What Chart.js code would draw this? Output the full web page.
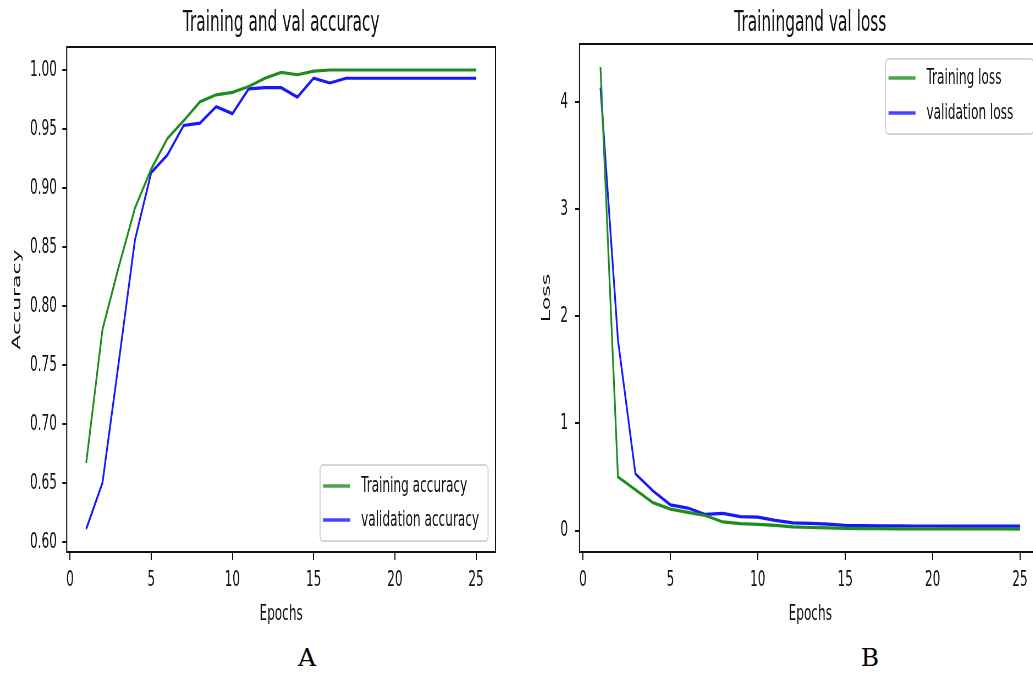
<!DOCTYPE html>
<html>
<head>
<meta charset="utf-8">
<script src="https://cdn.jsdelivr.net/npm/chart.js@4.4.1/dist/chart.umd.min.js"></script>
<style>
  html, body { margin: 0; padding: 0; background: #fff; overflow: hidden; width: 1033px; height: 681px; position: relative; }
  .panel { position: absolute; top: 0; transform-origin: 0 0; transform: scaleX(0.55); }
  .panel canvas { display: block; }
  #panelA { left: 0; }
  #panelB { left: 513px; }
  .lbl { position: absolute; width: 100px; text-align: center; font-family: 'DejaVu Serif', serif; font-size: 25px; color: #000; top: 643px; }
</style>
</head>
<body>
<div class="panel" id="panelA"><canvas id="accChart" width="927" height="640"></canvas></div>
<div class="panel" id="panelB"><canvas id="lossChart" width="995" height="640"></canvas></div>
<div class="lbl" style="left:257px">A</div>
<div class="lbl" style="left:820px">B</div>
<script>
// data
const epochs = [1, 2, 3, 4, 5, 6, 7, 8, 9, 10, 11, 12, 13, 14, 15, 16, 17, 18, 19, 20, 21, 22, 23, 24, 25];
const trainAcc = [0.667, 0.780, 0.833, 0.883, 0.916, 0.942, 0.957, 0.973, 0.979, 0.981, 0.986, 0.993, 0.998, 0.996, 0.999,
                  1.0, 1.0, 1.0, 1.0, 1.0, 1.0, 1.0, 1.0, 1.0, 1.0];
const valAcc = [0.611, 0.650, 0.752, 0.856, 0.913, 0.928, 0.953, 0.955, 0.969, 0.963, 0.984, 0.985, 0.985, 0.977, 0.993,
                0.989, 0.993, 0.993, 0.993, 0.993, 0.993, 0.993, 0.993, 0.993, 0.993];
const trainLoss = [4.33, 0.50, 0.38, 0.26, 0.20, 0.17, 0.14, 0.08, 0.065, 0.058, 0.048, 0.034, 0.028, 0.025, 0.020,
                   0.018, 0.017, 0.016, 0.015, 0.015, 0.015, 0.014, 0.014, 0.014, 0.013];
const valLoss = [4.14, 1.78, 0.53, 0.37, 0.24, 0.21, 0.15, 0.16, 0.13, 0.125, 0.095, 0.072, 0.066, 0.060, 0.048,
                 0.045, 0.044, 0.043, 0.042, 0.042, 0.041, 0.041, 0.041, 0.041, 0.041];
const xTicks = [0, 5, 10, 15, 20, 25];
const accTicks = [0.60, 0.65, 0.70, 0.75, 0.80, 0.85, 0.90, 0.95, 1.00];
const lossTicks = [0, 1, 2, 3, 4];

const SQ = 0.55; // horizontal squash of the panels
const FAM = "'DejaVu Sans', sans-serif";
const INK = '#111';
const GREEN = '#1f8c1f';
const BLUE = '#1616ff';

// box round the plot area, like matplotlib spines
const frame = {
  id: 'frame',
  afterDatasetsDraw(chart) {
    const { ctx, chartArea: a } = chart;
    ctx.save();
    ctx.strokeStyle = INK;
    ctx.lineWidth = 2;
    ctx.strokeRect(a.left, a.top, a.right - a.left, a.bottom - a.top);
    ctx.restore();
  }
};

// legend drawn inside the plot area
const boxLegend = {
  id: 'boxLegend',
  afterDraw(chart, args, o) {
    const { ctx, chartArea: a } = chart;
    const w = o.width / SQ, h = o.height;
    const x = a.right - o.gapX / SQ - w;
    const y = o.corner === 'top' ? a.top + o.gapY : a.bottom - o.gapY - h;
    ctx.save();
    ctx.beginPath();
    ctx.roundRect(x, y, w, h, 5);
    ctx.fillStyle = 'rgba(255,255,255,0.85)';
    ctx.fill();
    ctx.strokeStyle = '#d4d4d4';
    ctx.lineWidth = 2;
    ctx.stroke();
    ctx.font = '22px ' + FAM;
    ctx.textBaseline = 'middle';
    chart.data.datasets.forEach((ds, i) => {
      const cy = y + o.rows[i];
      ctx.strokeStyle = ds.borderColor;
      ctx.globalAlpha = 0.8;
      ctx.lineWidth = 3.5;
      ctx.beginPath();
      ctx.moveTo(x + 3 / SQ, cy);
      ctx.lineTo(x + 30 / SQ, cy);
      ctx.stroke();
      ctx.globalAlpha = 1;
      ctx.fillStyle = INK;
      ctx.fillText(ds.label, x + 41 / SQ, cy);
    });
    ctx.restore();
  }
};

function makeChart(id, o) {
  return new Chart(document.getElementById(id), {
    type: 'line',
    data: {
      datasets: o.series.map(s => ({
        label: s.label,
        data: epochs.map((e, i) => ({ x: e, y: s.values[i] })),
        borderColor: s.color,
        borderWidth: 3.2,
        pointRadius: 0,
        tension: 0,
        fill: false
      }))
    },
    options: {
      responsive: false,
      animation: false,
      devicePixelRatio: 1,
      layout: { padding: { left: 0, right: o.padRight, top: 0, bottom: 0 } },
      plugins: {
        legend: { display: false },
        tooltip: { enabled: false },
        title: {
          display: true, text: o.title, color: INK, fullSize: false,
          font: { family: FAM, size: 28, weight: 'normal' },
          padding: { top: 6.6, bottom: o.titleGap }
        },
        boxLegend: o.legend
      },
      scales: {
        x: {
          type: 'linear', min: -0.2, max: 26.2,
          afterFit(s) { s.height = 88; },
          afterBuildTicks(s) { s.ticks = xTicks.map(v => ({ value: v })); },
          ticks: { color: INK, font: { family: FAM, size: 22 }, padding: 7, maxRotation: 0 },
          grid: { drawOnChartArea: false, drawTicks: true, tickLength: 8, color: INK, lineWidth: 2 },
          border: { display: false },
          title: { display: true, text: 'Epochs', color: INK, font: { family: FAM, size: 22 }, padding: { top: 0, bottom: 12.8 } }
        },
        y: {
          type: 'linear', min: o.yMin, max: o.yMax,
          afterFit(s) { s.width = o.axisWidth; },
          afterBuildTicks(s) { s.ticks = o.yTicks.map(v => ({ value: v })); },
          ticks: { color: INK, font: { family: FAM, size: 22 }, padding: o.yPad, callback: o.fmt },
          grid: { drawOnChartArea: false, drawTicks: true, tickLength: 8, color: INK, lineWidth: 2 },
          border: { display: false },
          title: { display: true, text: o.yTitle, color: INK, font: { family: FAM, size: 22 }, padding: { top: o.yTitlePad, bottom: 0 } }
        }
      }
    },
    plugins: [frame, boxLegend]
  });
}

makeChart('accChart', {
  title: 'Training and val accuracy',
  yTitle: 'Accuracy',
  series: [
    { label: 'Training accuracy', values: trainAcc, color: GREEN },
    { label: 'validation accuracy', values: valAcc, color: BLUE }
  ],
  yMin: 0.5915, yMax: 1.0195, yTicks: accTicks,
  fmt: v => Number(v).toFixed(2),
  padRight: 26, axisWidth: 121.3, titleGap: 6.8, yPad: 9.7, yTitlePad: 17.7,
  legend: { corner: 'bottom', width: 168, height: 76, gapX: 7.5, gapY: 11, rows: [21, 55] }
});

makeChart('lossChart', {
  title: 'Trainingand val loss',
  yTitle: 'Loss',
  series: [
    { label: 'Training loss', values: trainLoss, color: GREEN },
    { label: 'validation loss', values: valLoss, color: BLUE }
  ],
  yMin: -0.2008, yMax: 4.5458, yTicks: lossTicks,
  fmt: v => String(v),
  padRight: 35, axisWidth: 120.9, titleGap: 3.8, yPad: 12.9, yTitlePad: 48,
  legend: { corner: 'top', width: 148, height: 75, gapX: 7.5, gapY: 15, rows: [19, 54] }
});
</script>
</body>
</html>
